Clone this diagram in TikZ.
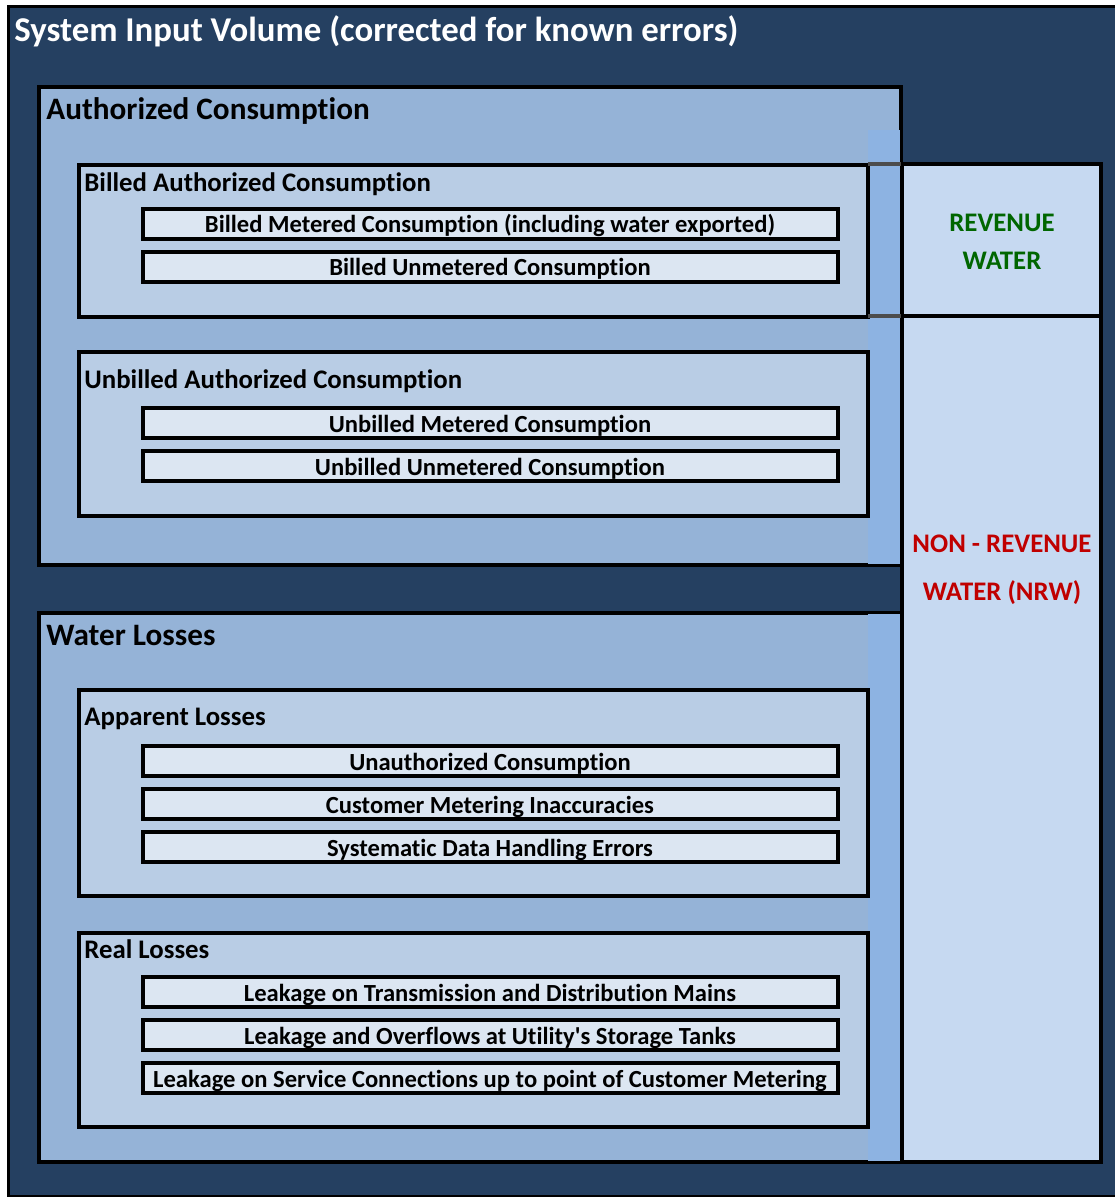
\documentclass[tikz,border=0pt]{standalone}
\usepackage{fontspec}
\setmainfont{Carlito}[Ligatures=NoCommon]
\definecolor{navy}{HTML}{254061}
\definecolor{groupblue}{HTML}{95B3D7}
\definecolor{subblue}{HTML}{B9CDE5}
\definecolor{itemblue}{HTML}{DCE6F2}
\definecolor{stripeblue}{HTML}{8DB3E2}
\definecolor{sideblue}{HTML}{C6D9F1}
\definecolor{revgreen}{HTML}{006600}
\definecolor{nrwred}{HTML}{C00000}
\begin{document}
\begin{tikzpicture}[x=0.5pt, y=-0.5pt,
    outerbox/.style={draw=black, line width=1.5pt, fill=navy},
    groupbox/.style={draw=black, line width=2pt, fill=groupblue},
    subbox/.style={draw=black, line width=2pt, fill=subblue},
    itembox/.style={draw=black, line width=1.75pt, fill=itemblue},
    sidebox/.style={draw=black, line width=2pt, fill=sideblue},
    headtext/.style={anchor=base west, inner sep=0pt, font=\bfseries\fontsize{15.6}{18}\selectfont},
    subtext/.style={anchor=base west, inner sep=0pt, font=\bfseries\fontsize{13.4}{15}\selectfont},
    itemtext/.style={anchor=base, inner sep=0pt, font=\bfseries\fontsize{12.3}{14}\selectfont},
    sidetext/.style={anchor=base, inner sep=0pt, font=\bfseries\fontsize{13.4}{15}\selectfont}]
  \useasboundingbox (0,0) rectangle (1114,1197);
  % Frame
  \draw[outerbox] (8,7) rectangle (1120,1196);
  \node[headtext, text=white, font=\bfseries\fontsize{17.4}{20}\selectfont] (siv) at (14,42) {System Input Volume (corrected for known errors)};
  % Authorized consumption and water losses
  \draw[groupbox] (39,87) rectangle (901,565);
  \fill[stripeblue] (868,130) rectangle (900,564);
  \draw[groupbox] (39,613) rectangle (901,1162);
  \fill[stripeblue] (868,614) rectangle (900,1161);
  \node[headtext] (auth) at (46,120) {Authorized Consumption};
  \node[headtext] (loss) at (46,645) {Water Losses};
  % Sub groups
  \foreach \top/\bot/\base/\n/\t in {165/317/192/bac/Billed Authorized Consumption,
      352/516/388/uac/Unbilled Authorized Consumption,
      690/896/725/app/Apparent Losses,
      933/1127/958/real/Real Losses} {
    \draw[subbox] (79,\top) rectangle (868,\bot);
    \node[subtext] (\n) at (84,\base) {\t};
  }
  % Components
  \foreach \y/\n/\t in {209/bmc/Billed Metered Consumption (including water exported),
      252/buc/Billed Unmetered Consumption,
      408/umc/Unbilled Metered Consumption,
      451/uuc/Unbilled Unmetered Consumption,
      746/unc/Unauthorized Consumption,
      789/cmi/Customer Metering Inaccuracies,
      832/sdh/Systematic Data Handling Errors,
      977/ltd/Leakage on Transmission and Distribution Mains,
      1020/lst/Leakage and Overflows at Utility\textquotesingle s Storage Tanks,
      1063/lsc/Leakage on Service Connections up to point of Customer Metering} {
    \draw[itembox] (143,\y) rectangle (838,\y+30);
    \node[itemtext] (\n) at (490,\y+24) {\t};
  }
  % Revenue / non-revenue column
  \draw[sidebox] (902,164) rectangle (1101,1162);
  \draw[line width=2pt] (902,316) -- (1101,316);
  \draw[line width=2pt, gray!60!black] (868,164) -- (901,164) (868,316) -- (901,316);
  \node[sidetext, text=revgreen] (rev1) at (1002,232) {REVENUE};
  \node[sidetext, text=revgreen] (rev2) at (1002,270) {WATER};
  \node[sidetext, text=nrwred] (nrw1) at (1002,552) {NON - REVENUE};
  \node[sidetext, text=nrwred] (nrw2) at (1002,600) {WATER (NRW)};
\end{tikzpicture}
\end{document}
